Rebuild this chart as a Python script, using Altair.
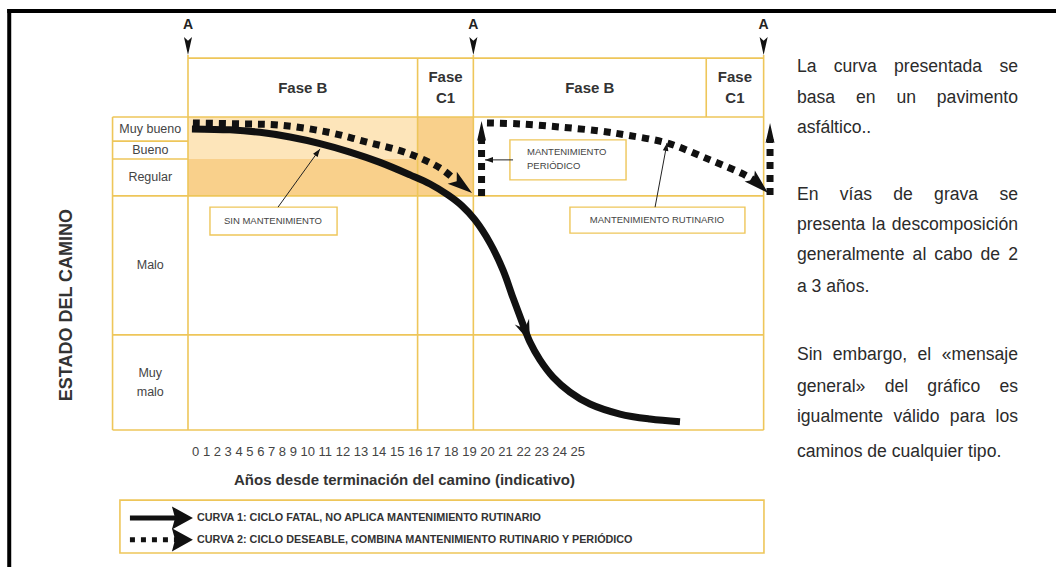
import math
import altair as alt
import pandas as pd

# ---------------- canvas & scales ----------------
W, H = 1056, 567
X_DOMAIN = [-11.463, 52.927]   # eje horizontal: años indicativos
Y_DOMAIN = [-43.77, 137.38]    # eje vertical: índice de estado del camino
PXX = W / (X_DOMAIN[1] - X_DOMAIN[0])
PXY = H / (Y_DOMAIN[1] - Y_DOMAIN[0])

FONT = "Liberation Sans"
GOLD = "#EEC65A"
LIGHT = "#FDE5BA"
DEEP = "#F9D08B"
INK = "#111111"
TXT = "#333333"

# ---------------- data ----------------
phase_edges = [0, 14, 17.4, 31.6, 35.1]
phase_names = ["Fase B", "Fase C1", "Fase B", "Fase C1"]
a_marks = [0, 17.4, 35.1]
a_tip = 119.8
label_col_left = -4.6
header_top = 118.8
row_names = ["Muy bueno", "Bueno", "Regular", "Malo", "Muy malo"]
row_edges = [100, 92.3, 86.6, 74.8, 30.4, 0]
years = list(range(26))
x_title = "Años desde terminación del camino (indicativo)"
y_title = "ESTADO DEL CAMINO"

# Curva 1: sin mantenimiento
curve1_x = [0.24, 2.56, 4.39, 6.22, 8.05, 9.88, 11.71, 13.54, 14.76, 15.85, 16.71,
            17.50, 18.42, 19.21, 19.82, 20.37, 20.85, 21.46, 22.26, 23.29, 24.51,
            26.34, 28.17, 30.0]
curve1_y = [96.2, 95.9, 95.1, 93.6, 91.5, 88.8, 85.5, 81.5, 78.6, 75.1, 71.6,
            67.1, 59.7, 51.1, 42.2, 34.5, 28.1, 22.4, 16.9, 12.1, 8.3,
            5.1, 3.5, 2.6]
curve1_head_index = 16

# Curva 2: mantenimiento rutinario + periódico
curve2a_x = [0.30, 3.17, 5.61, 8.48, 10.91, 13.35, 15.37, 16.28]
curve2a_y = [98.1, 97.8, 97.4, 95.2, 92.0, 88.5, 83.7, 79.9]
curve2a_tip = (17.32, 75.7)
curve2b_x = [18.23, 20.24, 22.68, 25.12, 26.77, 29.21, 31.83, 33.84, 34.57]
curve2b_y = [98.1, 97.8, 96.8, 95.5, 94.2, 91.7, 86.3, 81.8, 79.6]
curve2b_tip = (35.37, 75.7)
periodic_x = [17.9, 35.49]
periodic_from = [74.8, 75.1]
periodic_tip = [98.7, 98.1]

notes = ["SIN MANTENIMIENTO", "MANTENIMIENTO PERIÓDICO", "MANTENIMIENTO RUTINARIO"]
note_x = [1.34, 19.63, 23.29]
note_x2 = [9.09, 26.71, 33.96]
note_y = [62.3, 79.9, 62.9]
note_y2 = [71.2, 92.7, 71.2]
leader_from = [(5.49, 71.2), (19.82, 86.3), (28.48, 71.2)]
leader_to = [(8.05, 89.8), (18.11, 86.3), (29.21, 91.7)]

legend_items = ["CURVA 1: CICLO FATAL, NO APLICA MANTENIMIENTO RUTINARIO",
                "CURVA 2: CICLO DESEABLE, COMBINA MANTENIMIENTO RUTINARIO Y PERIÓDICO"]
legend_rows = [-28.1, -35.1]
legend_box = (-4.15, 35.12, -39.3, -22.4)
legend_arrow = (-3.54, -0.6, 0.3)   # cola, fin de trazo, punta

para_lines = ["La curva presentada se", "basa en un pavimento", "asfáltico..",
              "En vías de grava se", "presenta la descomposición",
              "generalmente al cabo de 2", "a 3 años.",
              "Sin embargo, el «mensaje", "general» del gráfico es",
              "igualmente válido para los", "caminos de cualquier tipo."]
para_justify = [True, True, False, True, True, True, False, True, True, True, False]
para_y = [116.0, 106.1, 96.5, 75.1, 65.5, 55.9, 45.7, 24.0, 13.7, 4.15, -7.0]
para_left, para_right = 37.13, 50.61
PARA_SIZE = 17.6

frame_top, frame_left = 133.9, -10.9

# ---------------- helpers ----------------
XS = alt.Scale(domain=X_DOMAIN, nice=False, zero=False)
YS = alt.Scale(domain=Y_DOMAIN, nice=False, zero=False)


def xq(f):
    return alt.X(f"{f}:Q", scale=XS, axis=None)


def yq(f):
    return alt.Y(f"{f}:Q", scale=YS, axis=None)


def heading(x0, y0, x1, y1):
    return math.degrees(math.atan2((x1 - x0) * PXX, (y1 - y0) * PXY)) % 360


def rules(rows, **mk):
    df = pd.DataFrame(rows, columns=["x", "y", "x2", "y2"])
    return alt.Chart(df).mark_rule(**mk).encode(
        x=xq("x"), y=yq("y"), x2=alt.X2("x2"), y2=alt.Y2("y2"))


def texts(rows, **mk):
    df = pd.DataFrame(rows, columns=["x", "y", "t"])
    base = dict(font=FONT, baseline="middle", color=TXT)
    base.update(mk)
    return alt.Chart(df).mark_text(**base).encode(x=xq("x"), y=yq("y"), text="t:N")


def head_path(hw, notch):
    return f"M0,0L{hw},2L0,{notch}L{-hw},2Z"


def heads(rows, shape):
    df = pd.DataFrame(rows, columns=["x", "y", "ang", "sz"])
    return alt.Chart(df).mark_point(shape=shape, filled=True, color=INK, opacity=1,
                                    strokeWidth=0).encode(
        x=xq("x"), y=yq("y"),
        angle=alt.Angle("ang:Q", scale=None),
        size=alt.Size("sz:Q", scale=None))


AW = {" ": 278, "a": 556, "b": 556, "c": 500, "d": 556, "e": 556, "f": 278, "g": 556,
      "h": 556, "i": 222, "j": 222, "k": 500, "l": 222, "m": 833, "n": 556, "o": 556,
      "p": 556, "q": 556, "r": 333, "s": 500, "t": 278, "u": 556, "v": 500, "w": 722,
      "x": 500, "y": 500, "z": 500, "á": 556, "é": 556, "í": 278, "ó": 556, "ú": 556,
      "ñ": 556, "E": 667, "L": 556, "S": 667, "«": 556, "»": 556, ",": 278, ".": 278}


def text_w(s):
    return sum(AW.get(ch, 556) for ch in s) * PARA_SIZE / 1000


layers = []

# ---------------- fills ----------------
fills = pd.DataFrame({
    "x": [phase_edges[0], phase_edges[0], phase_edges[1]],
    "x2": [phase_edges[1], phase_edges[1], phase_edges[2]],
    "y": [row_edges[2], row_edges[3], row_edges[3]],
    "y2": [row_edges[0], row_edges[2], row_edges[0]],
    "c": [LIGHT, DEEP, DEEP],
})
layers.append(alt.Chart(fills).mark_rect(strokeWidth=0).encode(
    x=xq("x"), x2=alt.X2("x2"), y=yq("y"), y2=alt.Y2("y2"),
    color=alt.Color("c:N", scale=None)))

# ---------------- grid ----------------
right = phase_edges[-1]
grid = []
for yv in [row_edges[0], row_edges[3], row_edges[4], row_edges[5]]:
    grid.append((label_col_left, yv, right, yv))
for yv in [row_edges[1], row_edges[2]]:
    grid.append((label_col_left, yv, 0, yv))
grid.append((phase_edges[0], header_top, right, header_top))
grid.append((label_col_left, row_edges[-1], label_col_left, row_edges[0]))
for xv in a_marks:
    grid.append((xv, row_edges[-1], xv, a_tip))
grid.append((phase_edges[1], row_edges[-1], phase_edges[1], header_top))
grid.append((phase_edges[3], row_edges[0], phase_edges[3], header_top))
layers.append(rules(grid, color=GOLD, strokeWidth=1.6))

# ---------------- annotation boxes ----------------
boxes = pd.DataFrame({"x": note_x, "x2": note_x2, "y": note_y, "y2": note_y2})
layers.append(alt.Chart(boxes).mark_rect(fill="white", stroke=GOLD, strokeWidth=1.4).encode(
    x=xq("x"), x2=alt.X2("x2"), y=yq("y"), y2=alt.Y2("y2")))

# legend box
lb = legend_box
layers.append(alt.Chart(pd.DataFrame({"x": [lb[0]], "x2": [lb[1]], "y": [lb[2]], "y2": [lb[3]]}))
              .mark_rect(fill="white", stroke=GOLD, strokeWidth=1.6)
              .encode(x=xq("x"), x2=alt.X2("x2"), y=yq("y"), y2=alt.Y2("y2")))

# ---------------- curves ----------------
c1 = pd.DataFrame({"x": curve1_x, "y": curve1_y, "i": range(len(curve1_x))})
layers.append(alt.Chart(c1).mark_line(color=INK, strokeWidth=7, interpolate="catmull-rom",
                                      strokeCap="butt").encode(
    x=xq("x"), y=yq("y"), order="i:Q"))

c2_rows = []
for seg, (xs_, ys_) in enumerate([(curve2a_x, curve2a_y), (curve2b_x, curve2b_y)]):
    for i, (a, b) in enumerate(zip(xs_, ys_)):
        c2_rows.append({"x": a, "y": b, "i": i, "seg": seg})
c2 = pd.DataFrame(c2_rows)
layers.append(alt.Chart(c2).mark_line(color=INK, strokeWidth=7, interpolate="catmull-rom",
                                      strokeDash=[7, 6], strokeCap="butt").encode(
    x=xq("x"), y=yq("y"), order="i:Q", detail="seg:N"))

head_len_units = 20 / PXY
per = [(xv, y0, xv, tip - head_len_units * 0.8) for xv, y0, tip in zip(periodic_x, periodic_from, periodic_tip)]
layers.append(rules(per, color=INK, strokeWidth=7, strokeDash=[7, 6], strokeCap="butt"))

# ---------------- arrow heads ----------------
MID = head_path(0.6, 1.55)
NARROW = head_path(0.45, 1.6)
BARB = head_path(0.7, 1.3)
WIDE = head_path(1.1, 1.7)
SMALL = "M0,0L0.7,2L-0.7,2Z"

k = curve1_head_index
layers.append(heads([(curve1_x[k], curve1_y[k],
                      heading(curve1_x[k - 1], curve1_y[k - 1], curve1_x[k], curve1_y[k]), 484)], BARB))
layers.append(heads([
    (curve2a_tip[0], curve2a_tip[1], heading(curve2a_x[-1], curve2a_y[-1], *curve2a_tip), 625),
    (curve2b_tip[0], curve2b_tip[1], heading(curve2b_x[-1], curve2b_y[-1], *curve2b_tip), 625),
], MID))
layers.append(heads([(xv, tip, 0, 400) for xv, tip in zip(periodic_x, periodic_tip)]
                    + [(xv, a_tip, 180, 324) for xv in a_marks], NARROW))
layers.append(heads([(b[0], b[1], heading(a[0], a[1], b[0], b[1]), 64)
                     for a, b in zip(leader_from, leader_to)], SMALL))
layers.append(heads([(legend_arrow[2], yv, 90, 441) for yv in legend_rows], WIDE))

# leaders
layers.append(rules([(a[0], a[1], b[0], b[1]) for a, b in zip(leader_from, leader_to)],
                    color="#222222", strokeWidth=1))

# legend strokes
layers.append(rules([(legend_arrow[0], legend_rows[0], legend_arrow[1], legend_rows[0])],
                    color=INK, strokeWidth=5))
layers.append(rules([(legend_arrow[0], legend_rows[1], legend_arrow[1], legend_rows[1])],
                    color=INK, strokeWidth=5, strokeDash=[5, 6], strokeCap="butt"))

# ---------------- texts ----------------
hdr_mid = (row_edges[0] + header_top) / 2
hdr = []
for i, name in enumerate(phase_names):
    cx = (phase_edges[i] + phase_edges[i + 1]) / 2
    if phase_edges[i + 1] - phase_edges[i] < 5:
        a, b = name.split(" ")
        hdr += [(cx, hdr_mid + 3.4, a), (cx, hdr_mid - 3.4, b)]
    else:
        hdr.append((cx, hdr_mid, name))
layers.append(texts(hdr, fontSize=15, fontWeight="bold"))

lbl = []
lcx = label_col_left / 2
for i, name in enumerate(row_names):
    cy = (row_edges[i] + row_edges[i + 1]) / 2
    if row_edges[i] - row_edges[i + 1] > 20 and " " in name:
        a, b = name.split(" ")
        lbl += [(lcx, cy + 2.9, a), (lcx, cy - 2.9, b)]
    else:
        lbl.append((lcx, cy, name))
layers.append(texts(lbl, fontSize=12.5, color="#444444"))

layers.append(texts([(xv, 129.4, "A") for xv in a_marks], fontSize=14, fontWeight="bold",
                    color="#222222"))

layers.append(texts([(0.25, -7.0, " ".join(str(v) for v in years))], fontSize=13,
                    align="left", color="#444444"))
layers.append(texts([(13.2, -15.9, x_title)], fontSize=15, fontWeight="bold"))
layers.append(texts([(-7.38, 39.9, y_title)], fontSize=18, fontWeight="bold", angle=270))

layers.append(texts([(5.18, 66.8, notes[0]), (28.6, 67.1, notes[2])], fontSize=9.5,
                    color="#444444"))
a, b = notes[1].split(" ")
layers.append(texts([(20.67, 88.8, a), (20.67, 84.3, b)], fontSize=9.5, align="left",
                    color="#444444"))

layers.append(texts([(0.55, yv, t) for yv, t in zip(legend_rows, legend_items)],
                    fontSize=10.8, fontWeight="bold", align="left"))

# right paragraph (justified)
span_px = (para_right - para_left) * PXX
words = []
for line, just, yv in zip(para_lines, para_justify, para_y):
    if not just:
        words.append((para_left, yv, line))
        continue
    ws = line.split(" ")
    widths = [text_w(w) for w in ws]
    gap = (span_px - sum(widths)) / (len(ws) - 1)
    pos = 0.0
    for w, wd in zip(ws, widths):
        words.append((para_left + pos / PXX, yv, w))
        pos += wd + gap
layers.append(texts(words, fontSize=PARA_SIZE, align="left", color="#2b2b2b"))

# frame
layers.append(rules([(frame_left, frame_top, X_DOMAIN[1], frame_top),
                     (frame_left, Y_DOMAIN[0], frame_left, frame_top)],
                    color="#000000", strokeWidth=4, strokeCap="square"))

chart = alt.layer(*layers).properties(
    width=W, height=H, padding=0, autosize=alt.AutoSizeParams(type="none"),
    background="white"
).configure_view(stroke=None)

chart.save("out.html", embed_options={"renderer": "svg", "actions": False})
